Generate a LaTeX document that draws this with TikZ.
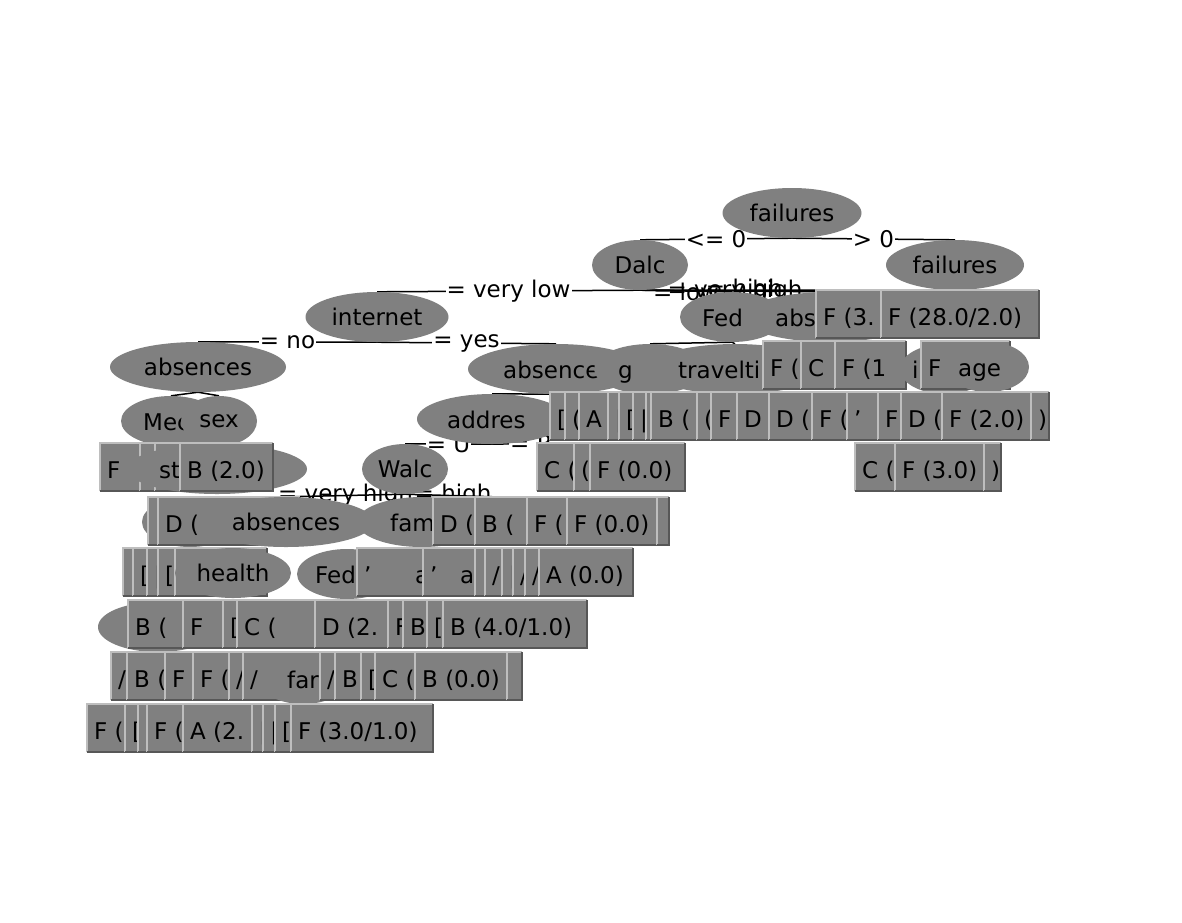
\documentclass[tikz,border=0pt]{standalone}
\usepackage{fontspec}
\setmainfont{DejaVu Sans}
\usetikzlibrary{shapes.geometric}
\definecolor{nodegray}{HTML}{808080}
\definecolor{lightedge}{HTML}{BEBEBE}
\definecolor{darkedge}{HTML}{575757}
\pgfdeclarelayer{bglayer}
\pgfdeclarelayer{edgelayer}
\pgfsetlayers{bglayer,edgelayer,main}
\newcommand{\wekafont}{\fontsize{23pt}{27pt}\selectfont}
\tikzset{
 ell/.style={ellipse, fill=nodegray, draw=none, inner sep=0pt, minimum height=50pt},
 leafbox/.style={rectangle, fill=nodegray, draw=none, inner sep=0pt, minimum height=48pt, anchor=north west},
 txt/.style={inner sep=0pt, anchor=base west},
 conn/.style={draw=black, line width=1.5pt},
 lab/.style={fill=white, inner sep=1pt, text=black},
 labn/.style={inner sep=1pt, text=black},
 bxhi/.style={draw=lightedge, line width=2pt},
 bxlo/.style={draw=darkedge, line width=2pt},
}
\newcommand{\wbox}[5]{%
 \node[leafbox, minimum width={(#3-#2)*1pt}] (#1) at (#2,#4) {};
 \draw[bxhi] (#1.south west) |- (#1.north east);
 \draw[bxlo] (#1.north east) |- (#1.south west);
 \node[txt] (#1t) at ({#2+7},{#4+35}) {#5};}
\newcommand{\wel}[5]{\node[ell, minimum width=#4pt] (#1) at (#2,#3) {#5};}
\newcommand{\welp}[6]{\node[ell, minimum width=#4pt] (#1) at (#2,#3) {};
 \node[txt] (#1t) at (#5,{#3+9}) {#6};}
\begin{document}
\begin{tikzpicture}[x=1pt,y=-1pt,font=\wekafont]
\begin{pgfonlayer}{bglayer}
\fill[white] (0,0) rectangle (1182,922);
\end{pgfonlayer}
\useasboundingbox (0,0) rectangle (1182,922);
% levels 1-2
\wel{root}{792}{213}{139}{failures}
\wel{dalc}{640}{265}{96}{Dalc}
\wel{failB}{955}{265}{138}{failures}
% level 3
\wel{inet}{377}{317}{143}{internet}
\welp{fedA}{732}{317}{104}{702}{Fed}
\welp{absR}{830}{317}{176}{775}{abs}
\wbox{bFa}{816}{881}{290}{F (3.}
\wbox{bFb}{881}{1039}{290}{F (28.0/2.0)}
% level 4
\wel{absL}{198}{367}{176}{absences}
\welp{absM}{556}{369}{176}{503}{absence.}
\welp{gout}{650}{369}{112}{618}{g}
\welp{trav}{735}{369}{176}{678}{travelti}
\wbox{bGa}{763}{801}{341}{F (}
\wbox{bGb}{801}{835}{341}{C}
\wbox{bGc}{835}{906}{341}{F (1}
\welp{inB}{945}{369}{90}{912}{ii}
\wbox{bGd}{921}{1010}{341}{F}
\welp{ageA}{988}{367}{82}{958}{age}
% level 5
\welp{medu}{171}{421}{100}{143}{Mec}
\wel{sexA}{219}{421}{76}{sex}
\welp{addr}{492}{419}{150}{447}{addres}
\wbox{bNa}{550}{565}{392}{[}
\wbox{bNb}{565}{579}{392}{(}
\wbox{bNc}{579}{608}{392}{A}
\wbox{bNd}{608}{619}{392}{|}
\wbox{bNe}{619}{633}{392}{[}
\wbox{bNf}{633}{646}{392}{|}
\wbox{bNg}{646}{651}{392}{}
\wbox{bNh}{651}{697}{392}{B (}
\wbox{bNi}{697}{711}{392}{(}
\wbox{bNj}{711}{737}{392}{F}
\wbox{bNk}{737}{769}{392}{D}
\wbox{bNl}{769}{812}{392}{D (}
\wbox{bNm}{812}{847}{392}{F (}
\wbox{bNn}{847}{878}{392}{'}
\wbox{bNo}{878}{901}{392}{F}
\wbox{bNp}{901}{942}{392}{D (}
\wbox{bNq}{942}{1031}{392}{F (2.0)}
\wbox{bNr}{1031}{1049}{392}{)}
% level 6
\wbox{bHa}{100}{140}{443}{F}
\wbox{bHb}{140}{155}{443}{'}
\wbox{bHc}{155}{180}{443}{}
\welp{stud}{217}{469}{180}{159}{st}
\wbox{bHd}{180}{273}{443}{B (2.0)}
\wbox{bHe}{537}{574}{443}{C (}
\wbox{bHf}{574}{590}{443}{(}
\wbox{bHg}{590}{685}{443}{F (0.0)}
\wbox{bHh}{855}{895}{443}{C (}
\wbox{bHi}{895}{984}{443}{F (3.0)}
\wbox{bHj}{984}{1001}{443}{)}
\wel{walc}{405}{469}{86}{Walc}
% level 7
\wel{smE}{190}{522}{96}{}
\wbox{bIa}{148}{158}{497}{}
\wbox{bIb}{158}{300}{497}{D (}
\wel{absB}{286}{522}{176}{absences}
\welp{famB}{422}{522}{130}{390}{fam}
\wbox{bIc}{433}{475}{497}{D (}
\wbox{bId}{475}{527}{497}{B (}
\wbox{bIe}{527}{567}{497}{F (}
\wbox{bIf}{567}{657}{497}{F (0.0)}
\wbox{bIg}{657}{669}{497}{}
% level 8
\wbox{bJa}{123}{133}{548}{}
\wbox{bJb}{133}{147}{548}{[}
\wbox{bJc}{147}{158}{548}{|}
\wbox{bJd}{158}{175}{548}{[}
\wbox{bJe}{175}{267}{548}{}
\wel{hlth}{233}{573}{116}{health}
\welp{fedB}{347}{574}{100}{315}{Fed}
\wbox{bJf}{357}{423}{548}{'}
\node[txt] (aA) at (415,583) {a};
\wbox{bJg}{423}{475}{548}{'}
\node[txt] (aB) at (460,583) {a};
\wbox{bJh}{475}{485}{548}{}
\wbox{bJi}{485}{502}{548}{/}
\wbox{bJj}{502}{513}{548}{|}
\wbox{bJk}{513}{525}{548}{/}
\wbox{bJl}{525}{539}{548}{/}
\wbox{bJm}{539}{633}{548}{A (0.0)}
% level 9
\wel{elK}{158}{627}{120}{}
\wbox{bKa}{128}{183}{600}{B (}
\wbox{bKb}{183}{223}{600}{F}
\wbox{bKc}{223}{237}{600}{[}
\wbox{bKd}{237}{315}{600}{C (}
\wbox{bKe}{315}{388}{600}{D (2.}
\wbox{bKf}{388}{403}{600}{F}
\wbox{bKg}{403}{427}{600}{B}
\wbox{bKh}{427}{443}{600}{[}
\wbox{bKi}{443}{587}{600}{B (4.0/1.0)}
% level 10
\wbox{bLa}{111}{127}{652}{/}
\wbox{bLb}{127}{165}{652}{B (}
\wbox{bLc}{165}{193}{652}{F}
\wbox{bLd}{193}{229}{652}{F (}
\wbox{bLe}{229}{243}{652}{/}
\wbox{bLf}{243}{320}{652}{/}
\welp{farE}{303}{679}{90}{287}{far}
\wbox{bLg}{320}{335}{652}{/}
\wbox{bLh}{335}{361}{652}{B}
\wbox{bLi}{361}{375}{652}{[}
\wbox{bLj}{375}{415}{652}{C (}
\wbox{bLk}{415}{507}{652}{B (0.0)}
\wbox{bLl}{507}{522}{652}{}
% level 11
\wbox{bMa}{87}{125}{704}{F (}
\wbox{bMb}{125}{138}{704}{[}
\wbox{bMc}{138}{147}{704}{}
\wbox{bMd}{147}{183}{704}{F (}
\wbox{bMe}{183}{252}{704}{A (2.}
\wbox{bMf}{252}{263}{704}{|}
\wbox{bMg}{263}{275}{704}{|}
\wbox{bMh}{275}{291}{704}{[}
\wbox{bMi}{291}{433}{704}{F (3.0/1.0)}
% connectors
\begin{pgfonlayer}{edgelayer}
\draw[conn] (root.south) -- node[lab]{<= 0} (dalc.north);
\draw[conn] (root.south) -- node[lab]{> 0} (failB.north);
\draw[conn] (dalc.south) -- node[lab]{= very low} (inet.north);
\draw[conn] (dalc.south) -- node[labn,yshift=-1pt]{= low} (fedA.north);
\draw[conn] (dalc.south) -- node[labn]{= very high} (absR.north);
\draw[conn] (dalc.south) -- node[labn]{= high} (bFa.north);
\draw[conn] (failB.south) -- (bFb.north);
\draw[conn] (inet.south) -- node[lab]{= no} (absL.north);
\draw[conn] (inet.south) -- node[lab]{= yes} (absM.north);
\draw[conn] (fedA.south) -- (gout.north);
\draw[conn] (fedA.south) -- (trav.north);
\draw[conn] (absL.south) -- (medu.north);
\draw[conn] (absL.south) -- (sexA.north);
\draw[conn] (absM.south) -- (addr.north);
\draw[conn] (addr.south) -- node[lab]{= U} (walc.north);
\draw[conn] (addr.south) -- node[lab,pos=0.62]{= R} (bHe.north);
\draw[conn] (walc.south) -- node[labn]{= very high} (absB.north);
\draw[conn] (walc.south) -- node[labn]{= high} (bId.north);
\end{pgfonlayer}
\end{tikzpicture}
\end{document}
